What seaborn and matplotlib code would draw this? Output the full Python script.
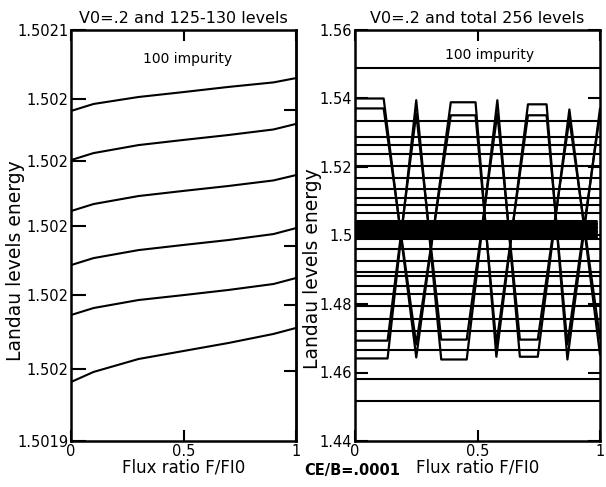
import numpy as np
import pandas as pd
import matplotlib
matplotlib.use("Agg")
import matplotlib.pyplot as plt
import seaborn as sns

# ---- left panel: levels 125-130 versus flux
flux_pts = [0, 0.1, 0.3, 0.5, 0.7, 0.9, 1.0]
lev130 = [1.5020606, 1.5020640, 1.5020674, 1.5020698, 1.5020723, 1.5020745, 1.5020766]
lev129 = [1.5020367, 1.5020401, 1.5020440, 1.5020465, 1.5020489, 1.5020516, 1.5020543]
lev128 = [1.5020119, 1.5020153, 1.5020192, 1.5020217, 1.5020241, 1.5020268, 1.5020294]
lev127 = [1.5019856, 1.5019890, 1.5019929, 1.5019954, 1.5019978, 1.5020007, 1.5020036]
lev126 = [1.5019613, 1.5019647, 1.5019686, 1.5019710, 1.5019735, 1.5019764, 1.5019793]
lev125 = [1.5019287, 1.5019336, 1.5019399, 1.5019438, 1.5019477, 1.5019521, 1.5019550]
left_yticks = [1.5019, 1.501935, 1.501971, 1.5020046, 1.5020362, 1.5020664, 1.5021]
left_yticklabels = ["1.5019", "1.502", "1.502", "1.502", "1.502", "1.502", "1.5021"]
left_right_ticks = [1.5019341, 1.5019662, 1.5019949, 1.5020611]

# ---- right panel: all 256 levels
flat_levels = [1.5489, 1.5333, 1.5289, 1.5263, 1.5239, 1.5204, 1.5169, 1.5136,
               1.5110, 1.5089, 1.5066, 1.4990, 1.4960, 1.4925, 1.4893, 1.4881,
               1.4852, 1.4828, 1.4793, 1.4755, 1.4720, 1.4667, 1.4582, 1.4517]
band_levels = [1.4997, 1.5001, 1.5005, 1.5009, 1.5013, 1.5017, 1.5021, 1.5025,
               1.5029, 1.5033, 1.5037, 1.5041]
zz_a_x = [0, 0.117, 0.250, 0.391, 0.492, 0.577, 0.706, 0.782, 0.867, 1.0]
zz_a_y = [1.5400, 1.5400, 1.4644, 1.5389, 1.5389, 1.4646, 1.5383, 1.5383, 1.4638, 1.5371]
zz_c_y = [1.5371, 1.5371, 1.4682, 1.5351, 1.5351, 1.4682, 1.5351, 1.5351, 1.4682, 1.5356]
zz_b_x = [0, 0.133, 0.250, 0.352, 0.456, 0.581, 0.673, 0.746, 0.875, 1.0]
zz_b_y = [1.4641, 1.4641, 1.5395, 1.4638, 1.4638, 1.5395, 1.4646, 1.4646, 1.5368, 1.4652]
zz_d_y = [1.4693, 1.4693, 1.5356, 1.4696, 1.4696, 1.5356, 1.4696, 1.4696, 1.5340, 1.4700]
right_yticks = [1.44, 1.46, 1.48, 1.50, 1.52, 1.54, 1.56]
right_yticklabels = ["1.44", "1.46", "1.48", "1.5", "1.52", "1.54", "1.56"]

sns.set_style("ticks")
plt.rcParams['font.family'] = ['DejaVu Sans']
plt.rcParams.update({'text.color': 'black', 'axes.labelcolor': 'black',
                     'xtick.color': 'black', 'ytick.color': 'black'})

# long tables for seaborn
left_df = pd.concat([pd.DataFrame({'flux': flux_pts, 'E': v, 'lev': n})
                     for n, v in zip([130, 129, 128, 127, 126, 125],
                                     [lev130, lev129, lev128, lev127, lev126, lev125])])
flat_df = pd.concat([pd.DataFrame({'flux': [0, 1], 'E': [e, e], 'lev': i})
                     for i, e in enumerate(flat_levels)])
band_df = pd.concat([pd.DataFrame({'flux': [0, 0.985], 'E': [e, e], 'lev': i})
                     for i, e in enumerate(band_levels)])
zz_df = pd.concat([pd.DataFrame({'flux': zz_a_x, 'E': zz_a_y, 'lev': 'a'}),
                   pd.DataFrame({'flux': zz_a_x, 'E': zz_c_y, 'lev': 'c'}),
                   pd.DataFrame({'flux': zz_b_x, 'E': zz_b_y, 'lev': 'b'}),
                   pd.DataFrame({'flux': zz_b_x, 'E': zz_d_y, 'lev': 'd'})])

fig = plt.figure(figsize=(6.06, 4.87), dpi=100)
ax1 = fig.add_axes([71/606, 46/487, 225/606, 411/487])
ax2 = fig.add_axes([355/606, 46/487, 245/606, 411/487])

sns.lineplot(data=left_df, x='flux', y='E', units='lev', estimator=None,
             color='black', lw=1.5, sort=False, legend=False, ax=ax1)
sns.lineplot(data=flat_df, x='flux', y='E', units='lev', estimator=None,
             color='black', lw=1.5, sort=False, legend=False, ax=ax2)
sns.lineplot(data=band_df, x='flux', y='E', units='lev', estimator=None,
             color='black', lw=2.2, sort=False, legend=False, ax=ax2)
sns.lineplot(data=zz_df, x='flux', y='E', units='lev', estimator=None,
             color='black', lw=1.6, sort=False, legend=False, ax=ax2)

ax1.set_ylim(1.5019, 1.5021)
ax2.set_ylim(1.44, 1.56)
ax1.set_yticks(left_yticks)
ax1.set_yticklabels(left_yticklabels)
ax2.set_yticks(right_yticks)
ax2.set_yticklabels(right_yticklabels)

sec = ax1.secondary_yaxis('right')
sec.set_yticks(left_right_ticks)
sec.tick_params(direction='in', length=9, width=1.5, labelright=False)
sec.spines['right'].set_linewidth(1.8)

for ax in (ax1, ax2):
    ax.set_xlim(0, 1)
    ax.set_xticks([0, 0.5, 1])
    ax.set_xticklabels(['0', '0.5', '1'])
    ax.tick_params(axis='both', direction='in', width=1.5, labelsize=10.5,
                   pad=2, top=True, colors='black')
    ax.tick_params(axis='y', length=11)
    ax.tick_params(axis='x', length=8)
    for s in ax.spines.values():
        s.set_visible(True)
        s.set_linewidth(1.8)
        s.set_color('black')
    ax.set_xlabel('Flux ratio F/FI0', fontsize=12, labelpad=0)
    ax.set_ylabel('Landau levels energy', fontsize=13.5)

ax2.tick_params(axis='y', right=True, length=9)
ax1.yaxis.set_label_coords(-0.205, 0.44)
ax2.yaxis.set_label_coords(-0.135, 0.42)

ax1.set_title('V0=.2 and 125-130 levels', fontsize=11.5, pad=5)
ax2.set_title('V0=.2 and total 256 levels', fontsize=11.5, pad=5)
ax1.text(0.52, 0.93, '100 impurity', transform=ax1.transAxes,
         ha='center', va='center', fontsize=10)
ax2.text(0.55, 0.94, '100 impurity', transform=ax2.transAxes,
         ha='center', va='center', fontsize=10)
fig.text(352/606, 1 - 471/487, 'CE/B=.0001', ha='center', va='center',
         fontsize=10.5, fontweight='bold')

fig.savefig('out.png', dpi=100)
